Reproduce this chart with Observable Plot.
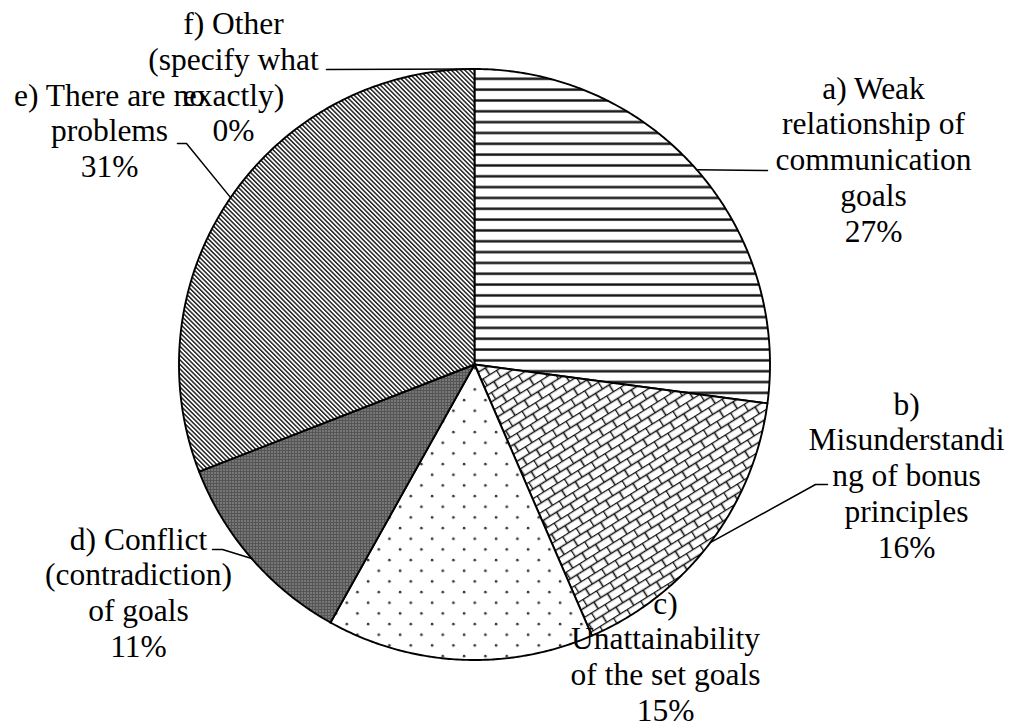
<!DOCTYPE html>
<html>
<head>
<meta charset="utf-8">
<script src="https://cdn.jsdelivr.net/npm/d3@7"></script>
<script src="https://cdn.jsdelivr.net/npm/@observablehq/plot@0.6"></script>
<style>
  html, body { margin: 0; padding: 0; background: #fff; }
  #chart svg { display: block; }
</style>
</head>
<body>
<svg width="0" height="0" style="position:absolute">
  <defs>
    <pattern id="pa" patternUnits="userSpaceOnUse" width="20" height="10.83">
      <rect width="20" height="10.83" fill="#fff"/>
      <rect y="1.3" width="20" height="2.4" fill="#111"/>
    </pattern>
    <pattern id="pb" patternUnits="userSpaceOnUse" width="16" height="16" patternTransform="rotate(-32)">
      <rect width="16" height="16" fill="#fff"/>
      <path d="M0 0.5H16M0 8.5H16M0.5 0V8.5M8.5 8.5V16" stroke="#111" stroke-width="1.6" fill="none"/>
    </pattern>
    <pattern id="pc" patternUnits="userSpaceOnUse" width="21.33" height="21.33">
      <rect width="21.33" height="21.33" fill="#fff"/>
      <circle cx="5" cy="5" r="1.3" fill="#333"/>
      <circle cx="15.67" cy="15.67" r="1.3" fill="#333"/>
    </pattern>
    <pattern id="pd" patternUnits="userSpaceOnUse" width="3" height="3">
      <rect width="3" height="3" fill="#555"/>
      <rect x="1" y="1" width="1" height="1" fill="#ddd"/>
    </pattern>
    <pattern id="pe" patternUnits="userSpaceOnUse" width="3.2" height="3.2" patternTransform="rotate(-45)">
      <rect width="3.2" height="3.2" fill="#fff"/>
      <rect width="1.5" height="3.2" fill="#222"/>
    </pattern>
  </defs>
</svg>
<div id="chart"></div>
<script>
// ---- data ----
const keys = ["a", "b", "c", "d", "e", "f"];
const values = [27.1, 16.4, 14.6, 11.0, 30.9, 0];
const percentLabels = ["27%", "16%", "15%", "11%", "31%", "0%"];
const labelLines = [
  ["a) Weak", "relationship of", "communication", "goals"],
  ["b)", "Misunderstandi", "ng of bonus", "principles"],
  ["c)", "Unattainability", "of the set goals"],
  ["d) Conflict", "(contradiction)", "of goals"],
  ["e) There are no", "problems"],
  ["f) Other", "(specify what", "exactly)"]
];
const patterns = ["url(#pa)", "url(#pb)", "url(#pc)", "url(#pd)", "url(#pe)", "url(#pa)"];

// ---- layout (pixels) ----
const W = 1019, H = 726;
const CX = 474, CY = 364, R = 295.5;
const FONT = 31.5, LINE = 35.8;
const labelLayout = {
  a: {cx: 873, base: 98},
  b: {cx: 906, base: 414},
  c: {cx: 665, base: 613},
  d: {cx: 138, base: 549},
  e: {cx: 109, base: 105},
  f: {cx: 233, base: 33.5}
};
const leaderBends = {
  a: [[767, 170]],
  b: [[815, 484], [827, 484]],
  c: null,
  d: [[222, 549], [212, 549]],
  e: [[186, 143], [177, 143]],
  f: [[326, 69]]
};
const ux = px => (px - CX) / R;
const uy = py => (CY - py) / R;

// ---- build ----
const table = keys.map((k, i) => ({key: k, value: values[i], pct: percentLabels[i], lines: labelLines[i], fill: patterns[i]}));
const arcs = d3.pie().sort(null).value(d => d.value).startAngle(0).endAngle(2 * Math.PI)(table);

const marks = [];
for (const a of arcs) {
  if (a.endAngle - a.startAngle <= 0) continue;
  const pts = [{x: 0, y: 0}];
  const n = Math.max(2, Math.ceil((a.endAngle - a.startAngle) / (Math.PI / 360)));
  for (let j = 0; j <= n; j++) {
    const t = a.startAngle + (a.endAngle - a.startAngle) * j / n;
    pts.push({x: Math.sin(t), y: Math.cos(t)});
  }
  marks.push(Plot.line(pts, {x: "x", y: "y", curve: "linear-closed", fill: a.data.fill, stroke: "#000", strokeWidth: 1.9, strokeLinejoin: "round"}));
}

// leaders
const leaders = [];
for (const a of arcs) {
  const bends = leaderBends[a.data.key];
  if (!bends) continue;
  const mid = (a.startAngle + a.endAngle) / 2;
  const seg = [{k: a.data.key, x: Math.sin(mid), y: Math.cos(mid)}];
  for (const [px, py] of bends) seg.push({k: a.data.key, x: ux(px), y: uy(py)});
  leaders.push(...seg);
}
marks.push(Plot.line(leaders, {x: "x", y: "y", z: "k", stroke: "#000", strokeWidth: 1.5}));

// labels
const textRows = [];
for (const d of table) {
  const L = labelLayout[d.key];
  const all = [...d.lines, d.pct];
  all.forEach((t, i) => textRows.push({t, x: ux(L.cx), y: uy(L.base + i * LINE)}));
}
marks.push(Plot.text(textRows, {x: "x", y: "y", text: "t", textAnchor: "middle", lineAnchor: "bottom", fontSize: FONT, fontFamily: "Liberation Serif", fill: "#000"}));

const chart = Plot.plot({
  width: W, height: H, margin: 0,
  style: {fontFamily: "'Liberation Serif', 'Times New Roman', serif", background: "#fff", overflow: "visible"},
  x: {domain: [-1, 1], range: [CX - R, CX + R], axis: null},
  y: {domain: [-1, 1], range: [CY + R, CY - R], axis: null},
  marks
});
document.getElementById("chart").appendChild(chart);
</script>
</body>
</html>
